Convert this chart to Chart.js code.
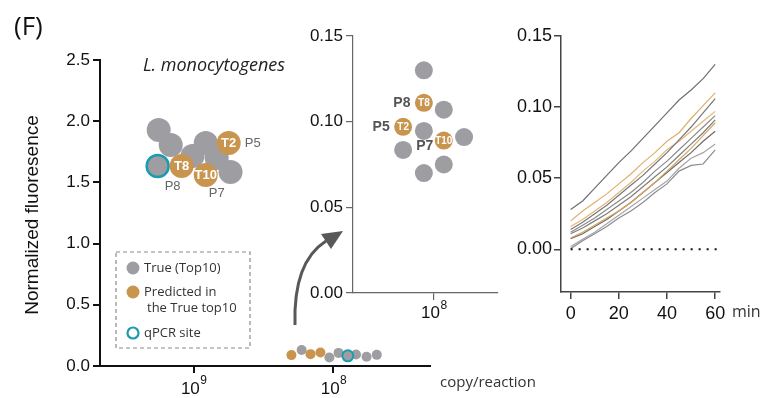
<!DOCTYPE html>
<html>
<head>
<meta charset="utf-8">
<script src="https://cdn.jsdelivr.net/npm/chart.js@4.4.1/dist/chart.umd.min.js"></script>
<style>
  html, body { margin: 0; padding: 0; background: #fff; }
  #wrap { position: relative; width: 763px; height: 398px; overflow: hidden; }
  #wrap canvas { position: absolute; left: 0; top: 0; }
</style>
</head>
<body>
<div id="wrap">
  <canvas id="main" width="763" height="398"></canvas>
  <canvas id="zoom" width="763" height="398"></canvas>
  <canvas id="kinetics" width="763" height="398"></canvas>
</div>
<script>
// ---- main panel: copy/reaction vs normalized fluorescence ----
// enlarged cluster drawn in the upper part of the panel
const clusterPredCopies = [1.22e9, 5.62e8, 8.2e8];
const clusterPredFluor  = [1.634, 1.822, 1.56];
const clusterQpcrCopies = [1.81e9];
const clusterQpcrFluor  = [1.634];
const clusterTrueCopies = [1.78e9, 1.46e9, 1.02e9, 8.2e8, 6.85e8, 5.45e8];
const clusterTrueFluor  = [1.928, 1.806, 1.716, 1.822, 1.70, 1.585];

// the ten top sites at their real position
const sitePredCopies = [2.0e8, 1.46e8, 1.24e8];
const sitePredFluor  = [0.089, 0.097, 0.111];
const siteQpcrCopies = [7.9e7];
const siteQpcrFluor  = [0.0835];
const siteTrueCopies = [1.69e8, 1.07e8, 9.2e7, 6.9e7, 5.8e7, 4.9e7];
const siteTrueFluor  = [0.130, 0.070, 0.107, 0.0946, 0.075, 0.091];

const predTags = ['T8', 'T2', 'T10'];
const predSites = ['P8', 'P5', 'P7'];
const copyTicks = [1e9, 1e8];
const fluorTicks = [0, 0.5, 1.0, 1.5, 2.0, 2.5];

// ---- zoomed panel around 10^8 ----
const zoomPredCopies = [1.10e8, 1.34e8, 9.1e7];
const zoomPredFluor  = [0.111, 0.097, 0.089];
const zoomTrueCopies = [1.10e8, 9.1e7, 1.10e8, 7.5e7, 1.34e8, 9.1e7, 1.10e8];
const zoomTrueFluor  = [0.130, 0.107, 0.0946, 0.091, 0.0835, 0.075, 0.070];
const zoomCopyTicks = [1e8];
const zoomFluorTicks = [0, 0.05, 0.10, 0.15];

// ---- kinetic traces ----
const minutes = [0, 5, 10, 15, 20, 25, 30, 35, 40, 45, 50, 55, 60];
const traceA   = [0.028, 0.034, 0.043, 0.052, 0.061, 0.069, 0.078, 0.087, 0.096, 0.105, 0.112, 0.120, 0.130];
const traceT8  = [0.020, 0.027, 0.033, 0.039, 0.046, 0.053, 0.061, 0.068, 0.076, 0.082, 0.092, 0.101, 0.110];
const traceB   = [0.014, 0.019, 0.025, 0.031, 0.038, 0.045, 0.052, 0.060, 0.068, 0.077, 0.086, 0.096, 0.106];
const traceT2  = [0.016, 0.021, 0.027, 0.033, 0.040, 0.047, 0.055, 0.062, 0.070, 0.076, 0.083, 0.090, 0.097];
const traceC   = [0.012, 0.017, 0.022, 0.028, 0.034, 0.040, 0.047, 0.055, 0.062, 0.070, 0.078, 0.086, 0.094];
const traceD   = [0.011, 0.015, 0.020, 0.025, 0.031, 0.037, 0.044, 0.051, 0.058, 0.066, 0.074, 0.082, 0.091];
const traceT10 = [0.008, 0.012, 0.017, 0.022, 0.027, 0.033, 0.040, 0.047, 0.055, 0.063, 0.071, 0.080, 0.089];
const traceE   = [0.0075, 0.011, 0.016, 0.021, 0.027, 0.033, 0.040, 0.047, 0.054, 0.061, 0.068, 0.076, 0.083];
const traceF   = [0.002, 0.007, 0.012, 0.018, 0.024, 0.030, 0.036, 0.042, 0.048, 0.057, 0.064, 0.068, 0.074];
const traceG   = [0.0005, 0.006, 0.011, 0.016, 0.022, 0.027, 0.033, 0.040, 0.046, 0.055, 0.059, 0.060, 0.070];
const minuteTicks = [0, 20, 40, 60];
const kinFluorTicks = [0, 0.05, 0.10, 0.15];
const zeroLineSpan = [0, 62];

const GRAY = '#9e9da2';
const GOLD = '#c9954e';
const TEAL = '#1a9bb0';
const NUM_FONT = '"Liberation Sans", Arial, sans-serif';
const TXT_FONT = '"Open Sans", "Noto Sans", sans-serif';

const pts = (xs, ys) => xs.map((x, i) => ({ x: x, y: ys[i] }));
const fixTicks = vals => scale => { scale.ticks = vals.map(v => ({ value: v })); };

function axis(color, width, tickLen) {
  return {
    border: { display: true, color: color, width: width },
    grid: { drawOnChartArea: false, drawTicks: true, tickLength: tickLen, color: color, lineWidth: width }
  };
}

// 10^n labels under a log axis
const powerTicks = {
  id: 'powerTicks',
  afterDraw(chart, args, o) {
    const scale = chart.scales.x;
    const ctx = chart.ctx;
    ctx.save();
    ctx.fillStyle = o.color;
    ctx.textAlign = 'left';
    ctx.textBaseline = 'alphabetic';
    scale.ticks.forEach(t => {
      const exp = String(Math.round(Math.log10(t.value)));
      ctx.font = o.size + 'px ' + NUM_FONT;
      const wb = ctx.measureText('10').width;
      ctx.font = o.supSize + 'px ' + NUM_FONT;
      const we = ctx.measureText(exp).width;
      const x0 = scale.getPixelForValue(t.value) - (wb + we) / 2;
      const base = scale.top + o.offset;
      ctx.font = o.size + 'px ' + NUM_FONT;
      ctx.fillText('10', x0, base);
      ctx.font = o.supSize + 'px ' + NUM_FONT;
      ctx.fillText(exp, x0 + wb + 0.5, base - o.raise);
    });
    ctx.restore();
  }
};

// text inside and beside the predicted sites
const pointTags = {
  id: 'pointTags',
  afterDatasetsDraw(chart) {
    const ctx = chart.ctx;
    ctx.save();
    ctx.textAlign = 'center';
    ctx.textBaseline = 'middle';
    chart.data.datasets.forEach((ds, i) => {
      if (!ds.inner) return;
      chart.getDatasetMeta(i).data.forEach((el, j) => {
        ctx.font = ds.innerFont;
        ctx.fillStyle = '#fff';
        ctx.fillText(ds.inner[j], el.x, el.y + 0.5);
        const off = ds.sideOffsets[j];
        ctx.font = ds.sideFont;
        ctx.fillStyle = ds.sideColor;
        ctx.fillText(ds.side[j], el.x + off[0], el.y + off[1]);
      });
    });
    ctx.restore();
  }
};

// titles, legend box and arrow of the main panel
const mainDecor = {
  id: 'mainDecor',
  afterDraw(chart) {
    const ctx = chart.ctx;
    ctx.save();
    ctx.fillStyle = '#111';
    ctx.textBaseline = 'middle';
    ctx.textAlign = 'left';
    ctx.font = '26px ' + TXT_FONT;
    ctx.fillText('(F)', 14, 28);

    ctx.font = 'italic 18px ' + TXT_FONT;
    ctx.textAlign = 'center';
    ctx.fillStyle = '#222';
    ctx.fillText('L. monocytogenes', 214, 66);

    ctx.font = '15px ' + TXT_FONT;
    ctx.textAlign = 'left';
    ctx.fillStyle = '#333';
    ctx.fillText('copy/reaction', 440, 383);

    ctx.save();
    ctx.translate(33, 215);
    ctx.rotate(-Math.PI / 2);
    ctx.textAlign = 'center';
    ctx.fillStyle = '#111';
    ctx.font = '19px ' + NUM_FONT;
    ctx.fillText('Normalized fluoresence', 0, 0);
    ctx.restore();

    // legend
    ctx.setLineDash([4, 3]);
    ctx.strokeStyle = '#8a8a8a';
    ctx.lineWidth = 1.2;
    ctx.strokeRect(116, 252, 134, 96);
    ctx.setLineDash([]);
    ctx.fillStyle = GRAY;
    ctx.beginPath(); ctx.arc(133, 268, 6.5, 0, Math.PI * 2); ctx.fill();
    ctx.fillStyle = GOLD;
    ctx.beginPath(); ctx.arc(133, 292, 6.5, 0, Math.PI * 2); ctx.fill();
    ctx.strokeStyle = TEAL;
    ctx.lineWidth = 2.2;
    ctx.beginPath(); ctx.arc(133, 333, 5.5, 0, Math.PI * 2); ctx.stroke();
    ctx.fillStyle = '#333';
    ctx.font = '13px ' + TXT_FONT;
    ctx.fillText('True (Top10)', 144, 268);
    ctx.fillText('Predicted in', 144, 292);
    ctx.fillText('the True top10', 147, 308);
    ctx.fillText('qPCR site', 144, 333);

    // curved arrow towards the zoomed panel
    ctx.strokeStyle = '#585858';
    ctx.fillStyle = '#585858';
    ctx.lineWidth = 3;
    ctx.beginPath();
    ctx.moveTo(295, 325);
    ctx.quadraticCurveTo(293, 262, 326, 241);
    ctx.stroke();
    ctx.beginPath();
    ctx.moveTo(343, 231);
    ctx.lineTo(321, 234);
    ctx.lineTo(331, 249);
    ctx.closePath();
    ctx.fill();
    ctx.restore();
  }
};

const minLabel = {
  id: 'minLabel',
  afterDraw(chart) {
    const ctx = chart.ctx;
    ctx.save();
    ctx.fillStyle = '#333';
    ctx.font = '16px ' + TXT_FONT;
    ctx.textBaseline = 'middle';
    ctx.fillText('min', 732, 312);
    ctx.restore();
  }
};

const base = { responsive: false, animation: false, devicePixelRatio: 1, events: [] };

new Chart(document.getElementById('main'), {
  type: 'scatter',
  data: {
    datasets: [
      { data: pts(clusterPredCopies, clusterPredFluor), backgroundColor: GOLD, borderWidth: 0, pointRadius: 12,
        inner: predTags, innerFont: 'bold 13px ' + NUM_FONT,
        side: predSites, sideOffsets: [[-9, 20], [24, 0], [11, 18]], sideFont: '13px ' + NUM_FONT, sideColor: '#666' },
      { data: pts(clusterQpcrCopies, clusterQpcrFluor), backgroundColor: GRAY, borderColor: TEAL, borderWidth: 2.5, pointRadius: 11 },
      { data: pts(clusterTrueCopies, clusterTrueFluor), backgroundColor: GRAY, borderWidth: 0, pointRadius: 12 },
      { data: pts(sitePredCopies, sitePredFluor), backgroundColor: GOLD, borderWidth: 0, pointRadius: 5 },
      { data: pts(siteQpcrCopies, siteQpcrFluor), backgroundColor: GRAY, borderColor: TEAL, borderWidth: 2, pointRadius: 5.5 },
      { data: pts(siteTrueCopies, siteTrueFluor), backgroundColor: GRAY, borderWidth: 0, pointRadius: 5 }
    ]
  },
  options: Object.assign({}, base, {
    layout: { padding: { left: 0, right: 333, top: 60, bottom: 0 } },
    plugins: { legend: { display: false }, tooltip: { enabled: false },
      powerTicks: { color: '#111', size: 17, supSize: 12, offset: 28, raise: 10 } },
    scales: {
      x: Object.assign(axis('#111', 2, 7), {
        type: 'logarithmic', reverse: true, min: 2.04e7, max: 4.68e9,
        ticks: { display: false },
        afterBuildTicks: fixTicks(copyTicks),
        afterFit: s => { s.height = 32; }
      }),
      y: Object.assign(axis('#111', 2, 7), {
        min: 0, max: 2.5,
        ticks: { color: '#111', padding: 3, font: { size: 17, family: NUM_FONT }, callback: v => v.toFixed(1) },
        afterBuildTicks: fixTicks(fluorTicks),
        afterFit: s => { s.width = 100; }
      })
    }
  }),
  plugins: [powerTicks, pointTags, mainDecor]
});

new Chart(document.getElementById('zoom'), {
  type: 'scatter',
  data: {
    datasets: [
      { data: pts(zoomPredCopies, zoomPredFluor), backgroundColor: GOLD, borderWidth: 0, pointRadius: 9,
        inner: predTags, innerFont: 'bold 10px ' + NUM_FONT,
        side: predSites, sideOffsets: [[-22, 0], [-22, 0], [-19, 6]], sideFont: 'bold 14px ' + NUM_FONT, sideColor: '#555' },
      { data: pts(zoomTrueCopies, zoomTrueFluor), backgroundColor: GRAY, borderWidth: 0, pointRadius: 9 }
    ]
  },
  options: Object.assign({}, base, {
    layout: { padding: { left: 293, right: 265, top: 36, bottom: 75 } },
    plugins: { legend: { display: false }, tooltip: { enabled: false },
      powerTicks: { color: '#111', size: 17, supSize: 12, offset: 25, raise: 9 } },
    scales: {
      x: Object.assign(axis('#666', 1.2, 7), {
        type: 'logarithmic', reverse: true, min: 5.43e7, max: 2.16e8,
        ticks: { display: false },
        afterBuildTicks: fixTicks(zoomCopyTicks),
        afterFit: s => { s.height = 30; }
      }),
      y: Object.assign(axis('#666', 1.2, 7), {
        min: 0, max: 0.15,
        ticks: { color: '#111', padding: 3, font: { size: 17, family: NUM_FONT }, callback: v => v.toFixed(2) },
        afterBuildTicks: fixTicks(zoomFluorTicks),
        afterFit: s => { s.width = 60; }
      })
    }
  }),
  plugins: [powerTicks, pointTags]
});

const trace = (vals, color) => ({
  data: pts(minutes, vals), borderColor: color, borderWidth: 1.2, pointRadius: 0, tension: 0, fill: false
});

new Chart(document.getElementById('kinetics'), {
  type: 'line',
  data: {
    datasets: [
      { data: pts(zeroLineSpan, [0, 0]), borderColor: '#111', borderWidth: 2, borderDash: [2, 6], pointRadius: 0 },
      trace(traceA, '#6f6f6f'),
      trace(traceT8, '#dfae6c'),
      trace(traceB, '#777777'),
      trace(traceT2, '#e2b679'),
      trace(traceC, '#8a8a8a'),
      trace(traceD, '#7d7d7d'),
      trace(traceT10, '#d9a35d'),
      trace(traceE, '#6a6a6a'),
      trace(traceF, '#a5a5a5'),
      trace(traceG, '#8c8c8c')
    ]
  },
  options: Object.assign({}, base, {
    layout: { padding: { left: 501, right: 43, top: 36, bottom: 76 } },
    plugins: { legend: { display: false }, tooltip: { enabled: false } },
    scales: {
      x: Object.assign(axis('#444', 1.5, 7), {
        type: 'linear', min: -4, max: 62,
        ticks: { color: '#111', padding: 4, font: { size: 18, family: NUM_FONT } },
        afterBuildTicks: fixTicks(minuteTicks),
        afterFit: s => { s.height = 30; }
      }),
      y: Object.assign(axis('#444', 1.5, 7), {
        min: -0.03, max: 0.15,
        ticks: { color: '#111', padding: 2, font: { size: 18, family: NUM_FONT }, callback: v => v.toFixed(2) },
        afterBuildTicks: fixTicks(kinFluorTicks),
        afterFit: s => { s.width = 60; }
      })
    }
  }),
  plugins: [minLabel]
});
</script>
</body>
</html>
